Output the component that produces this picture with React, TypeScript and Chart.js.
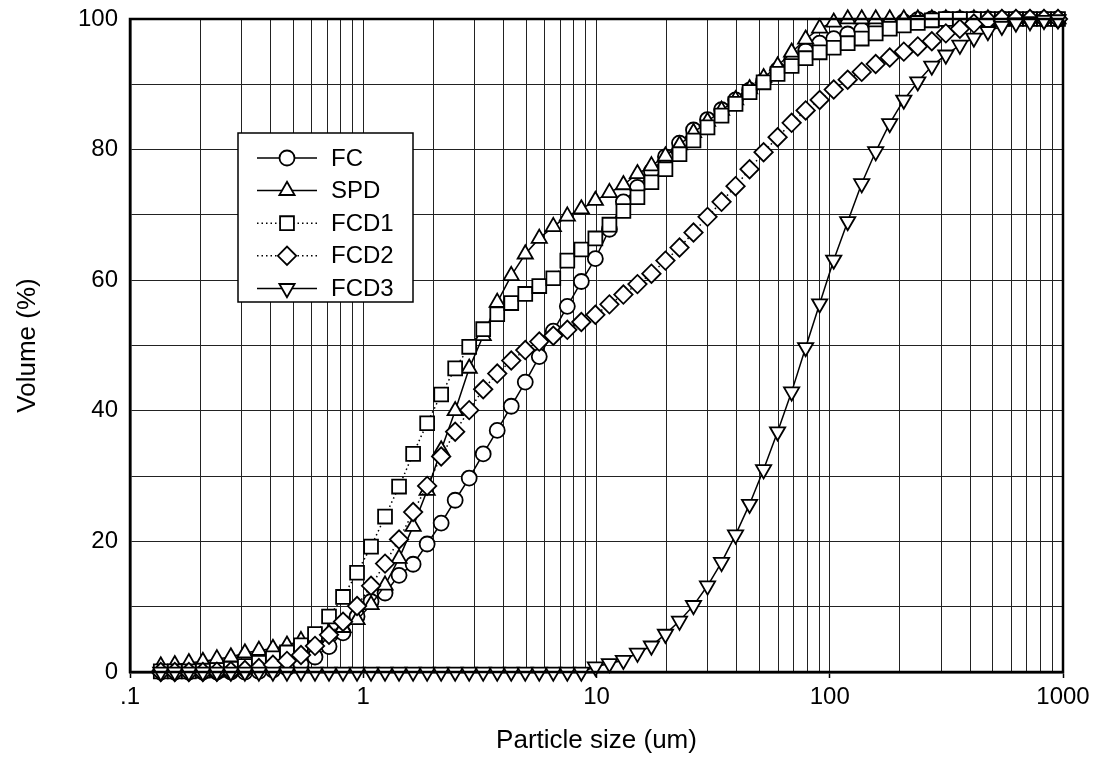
import React, { useEffect, useRef } from 'react';
import { Chart, registerables } from 'chart.js';

Chart.register(...registerables);

// Particle size classes (um)
const sizes = [0.1355, 0.1556, 0.1788, 0.2053, 0.2358, 0.2707, 0.3109, 0.357, 0.41, 0.4709, 0.5408, 0.6211, 0.7133, 0.8191, 0.9406, 1.08, 1.24, 1.424, 1.636, 1.879, 2.158, 2.478, 2.846, 3.268, 3.753, 4.31, 4.95, 5.684, 6.528, 7.497, 8.61, 9.888, 11.36, 13.04, 14.98, 17.2, 19.75, 22.69, 26.05, 29.92, 34.36, 39.46, 45.32, 52.04, 59.77, 68.64, 78.83, 90.53, 104.0, 119.4, 137.1, 157.4, 180.8, 207.7, 238.5, 273.9, 314.6, 361.3, 414.9, 476.5, 547.0, 628.4, 721.7, 828.8, 951.8];

const fc = [0, 0, 0, 0, 0, 0, 0, 0.1, 0.3, 0.6, 1.2, 2.3, 3.9, 6.0, 8.5, 10.8, 12.1, 14.8, 16.5, 19.6, 22.8, 26.3, 29.7, 33.4, 37.0, 40.7, 44.4, 48.3, 52.2, 56.0, 59.8, 63.3, 67.8, 72.0, 74.2, 76.7, 78.9, 81.0, 83.0, 84.6, 86.1, 87.6, 89.1, 90.5, 92.2, 93.7, 95.1, 96.3, 97.0, 97.7, 98.3, 98.8, 99.2, 99.6, 99.9, 100, 100, 100, 100, 100, 100, 100, 100, 100, 100];

const spd = [0.9, 1.1, 1.4, 1.6, 2.0, 2.3, 2.9, 3.3, 3.6, 4.1, 4.8, 5.3, 5.9, 6.8, 8.0, 10.3, 13.3, 17.4, 22.3, 27.8, 34.0, 40.0, 46.5, 51.5, 56.6, 60.7, 64.0, 66.4, 68.2, 69.8, 70.9, 72.2, 73.4, 74.6, 76.3, 77.5, 79.0, 80.7, 82.6, 84.3, 86.0, 87.6, 89.3, 91.0, 92.8, 94.9, 96.9, 98.6, 99.5, 100, 100, 100, 100, 100, 100, 100, 100, 100, 100, 100, 100, 100, 100, 100, 100];

const fcd1 = [0.1, 0.1, 0.1, 0.2, 0.3, 0.5, 0.9, 1.4, 2.1, 3.0, 4.1, 5.8, 8.5, 11.5, 15.2, 19.2, 23.8, 28.4, 33.4, 38.1, 42.5, 46.5, 49.8, 52.5, 54.8, 56.5, 57.9, 59.1, 60.3, 63.0, 64.7, 66.4, 68.5, 70.6, 72.7, 75.0, 77.0, 79.3, 81.4, 83.4, 85.2, 87.0, 88.8, 90.3, 91.6, 92.8, 94.0, 94.9, 95.6, 96.3, 97.0, 97.8, 98.5, 99.0, 99.4, 99.8, 100, 100, 100, 100, 100, 100, 100, 100, 100];

const fcd2 = [0, 0, 0, 0, 0.05, 0.1, 0.3, 0.6, 1.1, 1.7, 2.6, 4.0, 5.7, 7.7, 10.1, 13.2, 16.6, 20.3, 24.5, 28.5, 33.0, 36.8, 40.1, 43.3, 45.7, 47.7, 49.3, 50.6, 51.5, 52.4, 53.6, 54.7, 56.3, 57.8, 59.4, 61.0, 63.0, 65.0, 67.3, 69.7, 72.0, 74.4, 77.0, 79.6, 81.9, 84.1, 86.0, 87.6, 89.2, 90.7, 91.9, 93.1, 94.1, 95.0, 95.8, 96.6, 97.8, 98.5, 99.3, 99.8, 100, 100, 100, 100, 100];

const fcd3 = [0, 0, 0, 0, 0, 0, 0, 0, 0, 0, 0, 0, 0, 0, 0, 0, 0, 0, 0, 0, 0, 0, 0, 0, 0, 0, 0, 0, 0, 0, 0, 0.8, 1.3, 1.8, 2.9, 4.0, 5.8, 7.8, 10.2, 13.2, 16.8, 21.0, 25.7, 31.0, 36.8, 42.9, 49.7, 56.4, 63.1, 69.0, 74.8, 79.7, 84.0, 87.6, 90.4, 92.8, 94.5, 96.0, 97.1, 98.1, 98.9, 99.4, 99.6, 99.8, 99.9];

const seriesNames = ['FC', 'SPD', 'FCD1', 'FCD2', 'FCD3'];
const xTickValues = [0.1, 1, 10, 100, 1000];
const xTickLabels = ['.1', '1', '10', '100', '1000'];
const yTickValues = [0, 20, 40, 60, 80, 100];

const FONT = "'Liberation Sans', Arial, Helvetica, sans-serif";

type Marker = { style: string; rot: number; r: number; dash: number[] };
const markers: Marker[] = [
  { style: 'circle', rot: 0, r: 7.5, dash: [] },
  { style: 'triangle', rot: 0, r: 8.8, dash: [] },
  { style: 'rect', rot: 0, r: 9.8, dash: [1.5, 3] },
  { style: 'rectRot', rot: 0, r: 9.2, dash: [1.5, 3] },
  { style: 'triangle', rot: 180, r: 8.8, dash: [] },
];

function drawMarker(ctx: CanvasRenderingContext2D, m: Marker, x: number, y: number) {
  const r = m.r;
  ctx.beginPath();
  if (m.style === 'circle') {
    ctx.arc(x, y, r, 0, Math.PI * 2);
  } else if (m.style === 'triangle') {
    let a = (m.rot * Math.PI) / 180;
    ctx.moveTo(x + Math.sin(a) * r, y - Math.cos(a) * r);
    a += (2 * Math.PI) / 3;
    ctx.lineTo(x + Math.sin(a) * r, y - Math.cos(a) * r);
    a += (2 * Math.PI) / 3;
    ctx.lineTo(x + Math.sin(a) * r, y - Math.cos(a) * r);
  } else if (m.style === 'rect') {
    const s = Math.SQRT1_2 * r;
    ctx.rect(x - s, y - s, 2 * s, 2 * s);
  } else {
    ctx.moveTo(x - r, y);
    ctx.lineTo(x, y - r);
    ctx.lineTo(x + r, y);
    ctx.lineTo(x, y + r);
  }
  ctx.closePath();
  ctx.fillStyle = '#fff';
  ctx.fill();
  ctx.setLineDash([]);
  ctx.lineWidth = 1.8;
  ctx.strokeStyle = '#000';
  ctx.stroke();
}

const framePlugin = {
  id: 'frameAndLegend',
  afterDraw(chart: any) {
    const { ctx, chartArea } = chart;
    ctx.save();
    ctx.strokeStyle = '#000';
    ctx.lineWidth = 2.5;
    ctx.setLineDash([]);
    ctx.strokeRect(chartArea.left, chartArea.top, chartArea.right - chartArea.left, chartArea.bottom - chartArea.top);
    const bx = 238, by = 133, bw = 175, bh = 169;
    ctx.fillStyle = '#fff';
    ctx.fillRect(bx, by, bw, bh);
    ctx.lineWidth = 1.5;
    ctx.strokeRect(bx, by, bw, bh);
    ctx.font = `24px ${FONT}`;
    ctx.textBaseline = 'middle';
    ctx.textAlign = 'left';
    seriesNames.forEach((name, i) => {
      const y = 158 + i * 32.6;
      const m = markers[i];
      ctx.beginPath();
      ctx.setLineDash(m.dash);
      ctx.lineWidth = 1.5;
      ctx.strokeStyle = '#000';
      ctx.moveTo(257, y);
      ctx.lineTo(317, y);
      ctx.stroke();
      drawMarker(ctx, m, 287, y);
      ctx.fillStyle = '#000';
      ctx.fillText(name, 331, y + 1);
    });
    ctx.restore();
  },
};

function isDecade(v: number) {
  const l = Math.log10(v);
  return Math.abs(l - Math.round(l)) < 1e-6;
}

export default function App() {
  const ref = useRef<HTMLCanvasElement>(null);
  useEffect(() => {
    const canvas = ref.current;
    if (!canvas) return;
    const values = [fc, spd, fcd1, fcd2, fcd3];
    const datasets = values.map((ys, i) => ({
      label: seriesNames[i],
      data: sizes.map((x, j) => ({ x, y: ys[j] })),
      showLine: true,
      borderColor: '#000',
      borderWidth: 1.5,
      borderDash: markers[i].dash,
      pointStyle: markers[i].style,
      pointRotation: markers[i].rot,
      pointRadius: markers[i].r,
      pointHoverRadius: markers[i].r,
      pointBackgroundColor: '#fff',
      pointBorderColor: '#000',
      pointBorderWidth: 1.8,
      clip: false as any,
      order: 5 - i,
      tension: 0,
    }));
    const gridTicks: number[] = [];
    for (let e = -1; e <= 2; e++) {
      for (let m = 1; m <= 9; m++) gridTicks.push(parseFloat((m * Math.pow(10, e)).toPrecision(3)));
    }
    gridTicks.push(1000);

    const chart = new Chart(canvas, {
      type: 'scatter',
      data: { datasets },
      options: {
        animation: false,
        responsive: false,
        devicePixelRatio: 1,
        layout: { autoPadding: false, padding: { left: 0, top: 19, right: 33, bottom: 0 } },
        plugins: { legend: { display: false }, tooltip: { enabled: false } },
        scales: {
          x: {
            type: 'logarithmic',
            position: 'bottom',
            min: 0.1,
            max: 1000,
            afterBuildTicks: (axis: any) => {
              axis.ticks = gridTicks.map((v) => ({ value: v, major: isDecade(v) }));
            },
            afterFit: (axis: any) => {
              axis.height = 109;
              axis.paddingLeft = 0;
              axis.paddingRight = 0;
              axis.paddingTop = 0;
              axis.paddingBottom = 0;
            },
            grid: {
              color: '#222',
              lineWidth: 1,
              drawTicks: true,
              tickLength: 6,
              tickColor: (c: any) => (c.tick && isDecade(c.tick.value) ? '#000' : 'rgba(0,0,0,0)'),
              tickWidth: 1.5,
            },
            border: { display: true, color: '#000', width: 2.5 },
            ticks: {
              autoSkip: false,
              maxRotation: 0,
              minRotation: 0,
              padding: 5,
              color: '#000',
              font: { family: FONT, size: 24 },
              callback: (v: any) => {
                const idx = xTickValues.findIndex((t) => Math.abs(Math.log10(t) - Math.log10(Number(v))) < 1e-6);
                return idx >= 0 ? xTickLabels[idx] : '';
              },
            },
            title: {
              display: true,
              text: 'Particle size (um)',
              color: '#000',
              font: { family: FONT, size: 26 },
              padding: { top: 0, bottom: 25 },
            },
          },
          y: {
            type: 'linear',
            min: 0,
            max: 100,
            afterFit: (axis: any) => {
              axis.width = 130;
              axis.paddingTop = 0;
              axis.paddingBottom = 0;
              axis.paddingLeft = 0;
              axis.paddingRight = 0;
            },
            grid: { color: '#222', lineWidth: 1, drawTicks: false },
            border: { display: true, color: '#000', width: 2.5 },
            ticks: {
              stepSize: 10,
              padding: 12,
              color: '#000',
              font: { family: FONT, size: 24 },
              callback: (v: any) => (yTickValues.includes(Number(v)) ? String(v) : ''),
            },
            title: {
              display: true,
              text: 'Volume (%)',
              color: '#000',
              font: { family: FONT, size: 26 },
              padding: { top: 12, bottom: 0 },
            },
          },
        },
      },
      plugins: [framePlugin],
    } as any);
    return () => chart.destroy();
  }, []);

  return (
    <div style={{ position: 'absolute', left: 0, top: 0, width: 1096, height: 781, background: '#fff' }}>
      <canvas ref={ref} width={1096} height={781} style={{ width: 1096, height: 781, display: 'block' }} />
    </div>
  );
}
